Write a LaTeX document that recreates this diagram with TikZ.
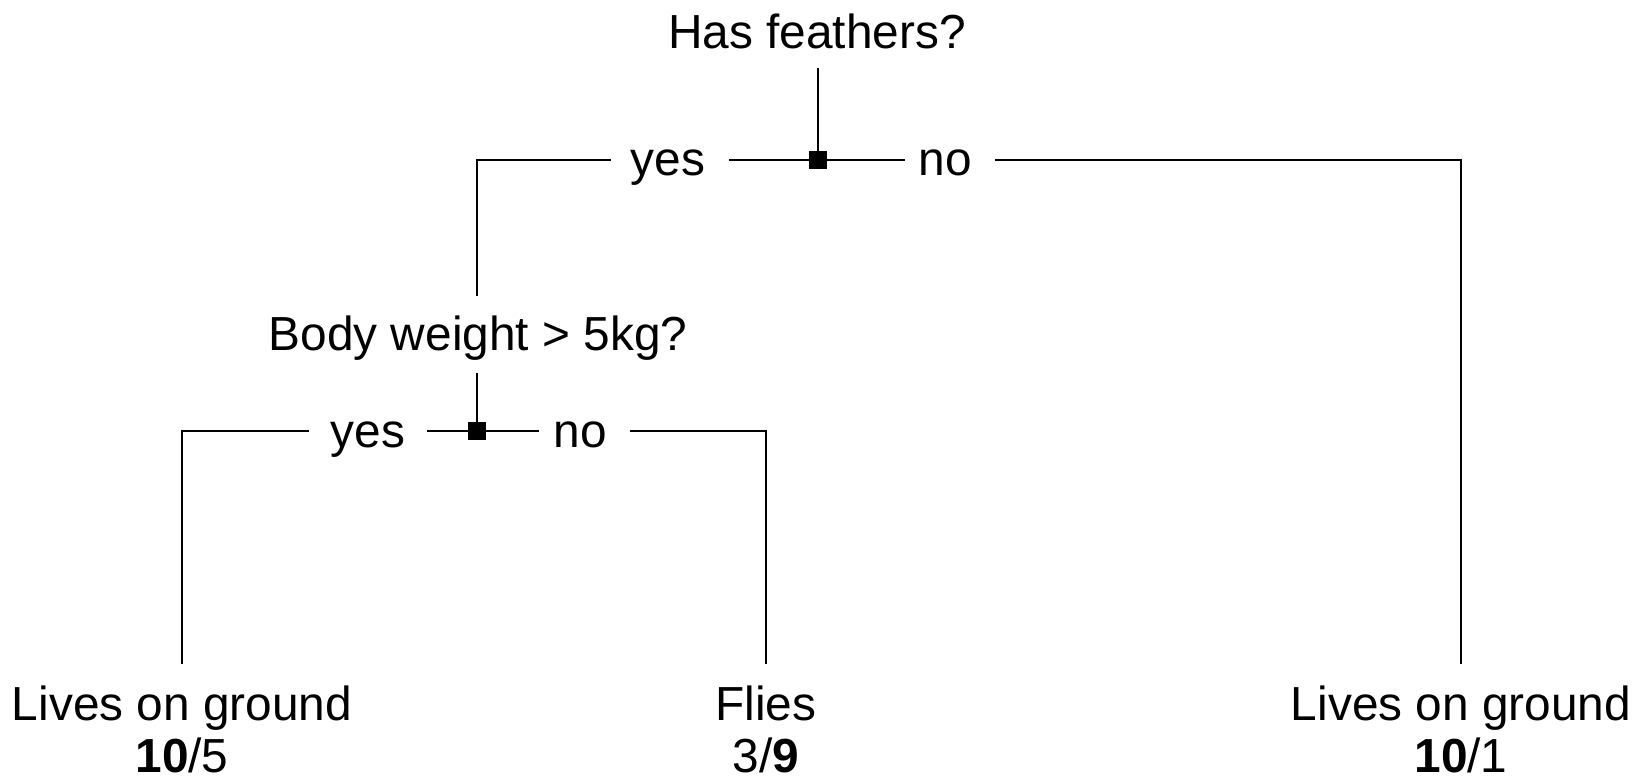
\documentclass[tikz,border=0pt]{standalone}
\usepackage{fontspec}
\setmainfont{Liberation Sans}
\usetikzlibrary{calc}
\begin{document}
\begin{tikzpicture}[x=1pt,y=-1pt,
  lbl/.style={font=\fontsize{47.8}{56}\selectfont, inner sep=0pt, anchor=base},
  junction/.style={fill=black, draw=none, minimum size=18pt, inner sep=0pt},
  edge/.style={line width=2pt}]
\useasboundingbox (0,0) rectangle (1640,783);

% questions and split points
\node[lbl] (q1) at (817,49) {Has feathers?};
\node[lbl] (y1) at (668,176) {yes};
\node[lbl] (n1) at (945,176) {no};
\node[lbl] (q2) at (478,350) {Body weight > 5kg?};
\node[lbl] (y2) at (368,447) {yes};
\node[lbl] (n2) at (580,447) {no};

% leaves
\node[lbl] (l1) at (182,720) {Lives on ground};
\node[lbl] (c1) at (182,772) {\textbf{10}/5};
\node[lbl] (l2) at (766,720) {Flies};
\node[lbl] (c2) at (766,772) {3/\textbf{9}};
\node[lbl] (l3) at (1461,720) {Lives on ground};
\node[lbl] (c3) at (1461,772) {\textbf{10}/1};

% first split
\coordinate (j1pos) at (818,160);
\draw[edge] ($(q1.base -| j1pos)+(0,19)$) -- (j1pos);
\draw[edge] (j1pos) -- ($(y1.east |- j1pos)+(24,0)$);
\draw[edge] (j1pos) -- ($(n1.west |- j1pos)+(-13,0)$);
\draw[edge] ($(y1.west |- j1pos)+(-20,0)$) -| ($(q2.base)+(-1,-54)$);
\draw[edge] ($(n1.east |- j1pos)+(23,0)$) -| ($(l3.base)+(0,-56)$);
\node[junction] (j1) at (j1pos) {};

% second split
\coordinate (j2pos) at (477,431);
\draw[edge] ($(q2.base -| j2pos)+(0,23)$) -- (j2pos);
\draw[edge] (j2pos) -- ($(y2.east |- j2pos)+(22,0)$);
\draw[edge] (j2pos) -- ($(n2.west |- j2pos)+(-14,0)$);
\draw[edge] ($(y2.west |- j2pos)+(-22,0)$) -| ($(l1.base)+(0,-56)$);
\draw[edge] ($(n2.east |- j2pos)+(23,0)$) -| ($(l2.base)+(0,-56)$);
\node[junction] (j2) at (j2pos) {};
\end{tikzpicture}
\end{document}
